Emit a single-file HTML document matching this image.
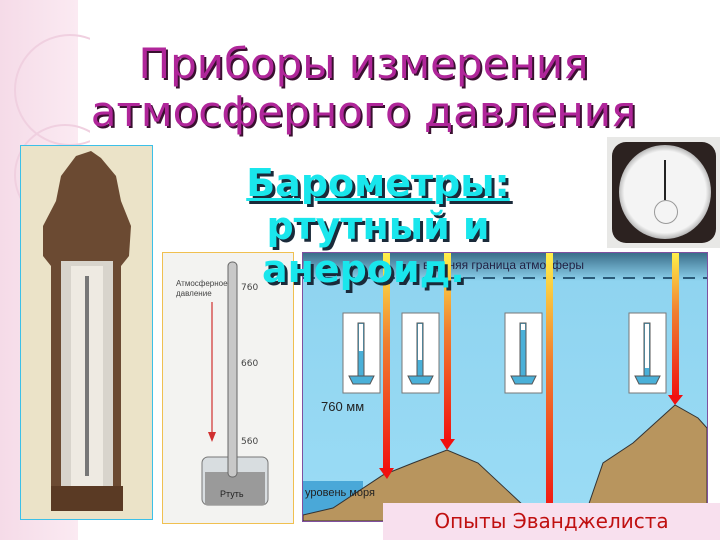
<!DOCTYPE html>
<html><head><meta charset="utf-8"><style>
body{margin:0;width:720px;height:540px;overflow:hidden;background:#fff;position:relative;font-family:"DejaVu Sans","Liberation Sans",sans-serif}
.abs{position:absolute}
.t{position:absolute;left:0;width:727px;text-align:center;color:#b0269a;font-size:42px;text-shadow:2px 2px 0 #3a1030;line-height:44px;font-family:"DejaVu Sans",sans-serif}
.c{position:absolute;left:168px;width:420px;text-align:center;color:#19e6ec;font-weight:bold;font-size:38px;text-shadow:3px 3px 0 #1a2a3a;line-height:42px;font-family:"DejaVu Sans",sans-serif}
</style></head><body>
<div class="abs" style="left:0;top:0;width:78px;height:540px;background:linear-gradient(90deg,#f5dbe8,#fbeaf2)"></div>
<svg class="abs" style="left:0;top:0" width="90" height="540"><circle cx="70" cy="90" r="55" fill="none" stroke="#f0d0e0" stroke-width="2"/><circle cx="65" cy="175" r="50" fill="none" stroke="#f0d0e0" stroke-width="2"/></svg>
<div class="t" style="top:42px">Приборы измерения</div>
<div class="t" style="top:90px">атмосферного давления</div>
<!-- left barometer -->
<div class="abs" style="left:20px;top:145px;width:131px;height:373px;border:1px solid #3cc0e8;background:#ebe3c8"></div>
<svg class="abs" style="left:21px;top:146px" width="131" height="373">
<path d="M55 10 L70 5 L80 12 L95 30 L100 55 L110 80 L108 110 L100 120 L100 360 L30 360 L30 120 L22 110 L22 80 L35 55 L40 30Z" fill="#6b4a32"/>
<rect x="40" y="115" width="52" height="230" fill="#d8d4cc"/>
<rect x="50" y="120" width="32" height="220" fill="#eeeae2"/>
<rect x="64" y="130" width="4" height="200" fill="#777"/>
<rect x="30" y="340" width="72" height="25" fill="#5a3a24"/>
</svg>
<!-- aneroid -->
<div class="abs" style="left:607px;top:137px;width:113px;height:111px;background:#e8e8e6"></div>
<div class="abs" style="left:612px;top:142px;width:104px;height:101px;background:#2c2220;border-radius:14px"></div>
<div class="abs" style="left:619px;top:145px;width:92px;height:94px;border-radius:50%;background:radial-gradient(circle,#f4f4f4 62%,#b0b0b0 72%,#e8e8e8 82%,#888 100%)"></div>
<div class="abs" style="left:664px;top:160px;width:2px;height:40px;background:#222"></div>
<div class="abs" style="left:654px;top:200px;width:22px;height:22px;border-radius:50%;border:1px solid #999"></div>
<!-- tube diagram -->
<div class="abs" style="left:162px;top:252px;width:130px;height:270px;border:1px solid #f0c050;background:#f3f3f1"></div>
<svg class="abs" style="left:162px;top:252px" width="132" height="272">
<text x="14" y="34" font-size="8" fill="#444" font-family="Liberation Sans">Атмосферное</text>
<text x="14" y="44" font-size="8" fill="#444" font-family="Liberation Sans">давление</text>
<line x1="50" y1="50" x2="50" y2="182" stroke="#d03030" stroke-width="1.2"/>
<path d="M46 180 L50 190 L54 180Z" fill="#d03030"/>
<rect x="40" y="205" width="66" height="48" rx="6" fill="#d8dde0" stroke="#777"/>
<rect x="43" y="220" width="60" height="33" fill="#9a9a9a"/>
<text x="58" y="245" font-size="9" fill="#222" font-family="Liberation Sans">Ртуть</text>
<rect x="66" y="10" width="9" height="215" rx="4" fill="#c8c8c8" stroke="#666"/>
<text x="79" y="38" font-size="9" fill="#444">760</text><text x="79" y="114" font-size="9" fill="#444">660</text><text x="79" y="192" font-size="9" fill="#444">560</text>
</svg>
<!-- atmosphere diagram -->
<div class="abs" style="left:302px;top:252px;width:404px;height:268px;border:1px solid #8050a0;background:linear-gradient(180deg,#3a6e8a 0,#8fd4f0 28px,#9bdcf5 100%)"></div>
<svg class="abs" style="left:303px;top:253px" width="404" height="268">
<defs><linearGradient id="g" x1="0" y1="0" x2="0" y2="1"><stop offset="0" stop-color="#fff04a"/><stop offset=".4" stop-color="#f08030"/><stop offset="1" stop-color="#f01010"/></linearGradient></defs>
<text x="120" y="16" font-size="12" fill="#224" font-family="Liberation Sans">верхняя граница атмосферы</text>
<line x1="0" y1="25" x2="404" y2="25" stroke="#2a5a78" stroke-width="2" stroke-dasharray="12 8"/>
<path d="M0 228 L60 228 L60 268 L0 268Z" fill="#4aa8d8"/>
<path d="M0 262 L30 255 L80 222 L110 210 L144 197 L175 210 L237 268 L0 268Z" fill="#b8955e" stroke="#333"/>
<path d="M280 268 L300 210 L330 190 L372 152 L395 165 L404 175 L404 268Z" fill="#b8955e" stroke="#333"/>
<rect x="80" y="0" width="7" height="220" fill="url(#g)"/><path d="M76 215 L84 226 L91 215Z" fill="#f01010"/>
<rect x="141" y="0" width="7" height="190" fill="url(#g)"/><path d="M137 186 L144 197 L152 186Z" fill="#f01010"/>
<rect x="243" y="0" width="7" height="268" fill="url(#g)"/>
<rect x="369" y="0" width="7" height="146" fill="url(#g)"/><path d="M365 142 L372 152 L380 142Z" fill="#f01010"/>
<g fill="#fff" stroke="#777">
<rect x="40" y="60" width="37" height="80"/><rect x="99" y="60" width="37" height="80"/><rect x="202" y="60" width="37" height="80"/><rect x="326" y="60" width="37" height="80"/></g>
<g fill="#4ab0d8" stroke="#555">
<rect x="55" y="70" width="6" height="55"/><path d="M46 123 L71 123 L67 131 L50 131Z"/>
<rect x="114" y="70" width="6" height="55"/><path d="M105 123 L130 123 L126 131 L109 131Z"/>
<rect x="217" y="70" width="6" height="55"/><path d="M208 123 L233 123 L229 131 L212 131Z"/>
<rect x="341" y="70" width="6" height="55"/><path d="M332 123 L357 123 L353 131 L336 131Z"/></g>
<g fill="#fff"><rect x="56" y="71" width="4" height="27"/><rect x="115" y="71" width="4" height="36"/><rect x="218" y="71" width="4" height="6"/><rect x="342" y="71" width="4" height="44"/></g>
<text x="18" y="158" font-size="13" fill="#222" font-family="Liberation Sans">760 мм</text>
<text x="2" y="243" font-size="11" fill="#222" font-family="Liberation Sans">уровень моря</text>
</svg>
<div class="abs" style="left:383px;top:503px;width:337px;height:37px;background:#f8e0ee;color:#c01010;font-size:20px;line-height:37px;text-align:center;font-family:'DejaVu Sans',sans-serif">Опыты Эванджелиста</div>
<div class="c" style="top:162px"><span style="text-decoration:underline">Барометры: </span></div>
<div class="c" style="top:205px">ртутный и</div>
<div class="c" style="top:248px;left:262px;width:260px;text-align:left">анероид.</div>
</body></html>
